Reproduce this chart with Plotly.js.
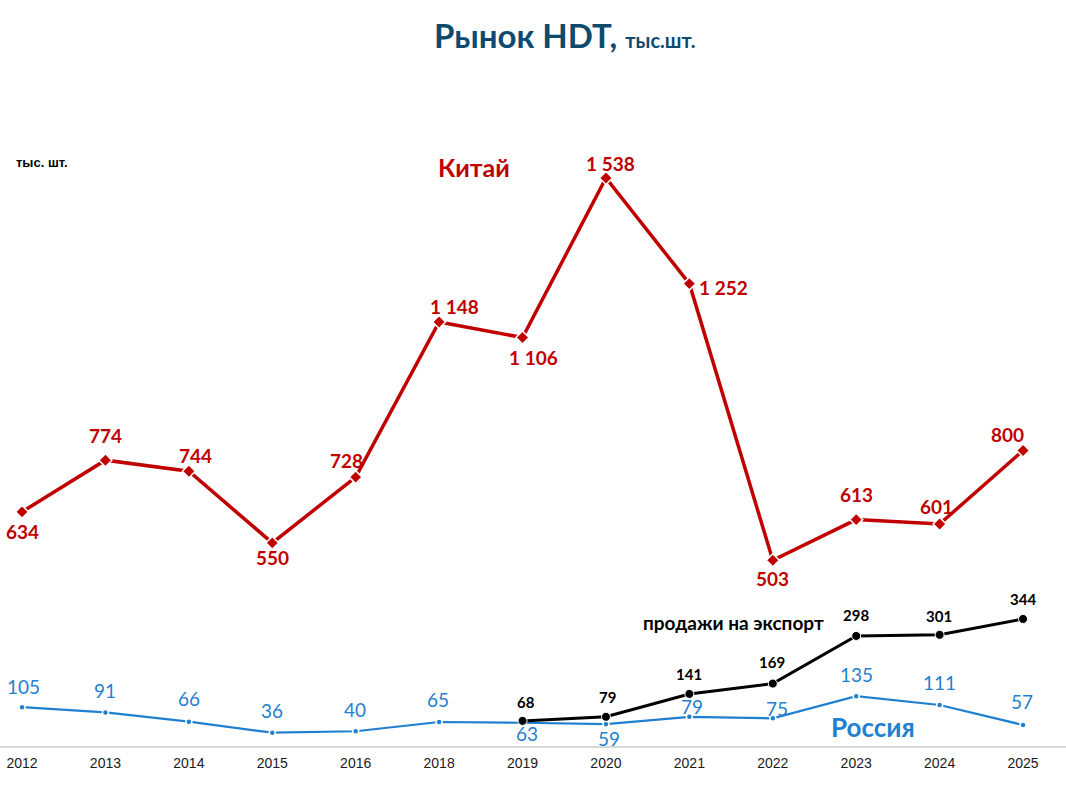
<!DOCTYPE html>
<html>
<head>
<meta charset="utf-8">
<script src="https://cdn.plot.ly/plotly-3.0.1.min.js"></script>
<style>
  html, body { margin: 0; padding: 0; background: #fff; }
  #chart { width: 1066px; height: 795px; }
</style>
</head>
<body>
<div id="chart"></div>
<script>
// данные графика
const years = ['2012', '2013', '2014', '2015', '2016', '2018', '2019', '2020', '2021', '2022', '2023', '2024', '2025'];
const china = [634, 774, 744, 550, 728, 1148, 1106, 1538, 1252, 503, 613, 601, 800];
const russia = [105, 91, 66, 36, 40, 65, 63, 59, 79, 75, 135, 111, 57];
const exportYears = ['2019', '2020', '2021', '2022', '2023', '2024', '2025'];
const exportSales = [68, 79, 141, 169, 298, 301, 344];

// смещения подписей (px): [dx, dy вниз]
const chinaLabelShift = [[0, 20], [0, -25], [7, -16], [0, 15], [-9, -17], [15, -16], [11, 20],
  [5, -15], [34, 4], [0, 18], [0, -25], [-3, -18], [-16, -16]];
const russiaLabelShift = [[1, -21], [0, -22], [0, -23], [0, -22], [-1, -22], [-1, -23], [4, 11],
  [3, 14], [3, -10], [4, -10], [0, -22], [0, -23], [-1, -23]];
const exportLabelShift = [[3, -19], [2, -20], [0, -20], [-1, -22], [0, -21], [-1, -19], [0, -20]];

const RED = '#c00000';
const BLUE = '#1f7fd0';
const LABEL_FONT = 'Lato, "Open Sans", sans-serif';
const PLOT_H = 746; // высота области построения

const fmt = v => String(v).replace(/\B(?=(\d{3})+(?!\d))/g, ' ');
const xIdx = years.map((y, i) => i);
const exportIdx = exportYears.map(y => years.indexOf(y));

const data = [
  {
    type: 'scatter', mode: 'lines+markers', name: 'Россия',
    x: xIdx, y: russia,
    line: { color: BLUE, width: 2.2 },
    marker: { color: BLUE, size: 6, symbol: 'circle', line: { color: '#fff', width: 1.5 } },
    cliponaxis: false
  },
  {
    type: 'scatter', mode: 'lines+markers', name: 'продажи на экспорт',
    x: exportIdx, y: exportSales,
    line: { color: '#000', width: 3 },
    marker: { color: '#000', size: 9, symbol: 'circle', line: { color: '#fff', width: 1 } },
    cliponaxis: false
  },
  {
    type: 'scatter', mode: 'lines+markers', name: 'Китай',
    x: xIdx, y: china,
    line: { color: RED, width: 3.5 },
    marker: { color: RED, size: 10, symbol: 'diamond', line: { color: '#fff', width: 1.5 } },
    cliponaxis: false
  }
];

// подписи значений
const annotations = [];
china.forEach((v, i) => annotations.push({
  x: xIdx[i], y: v, text: '<b>' + fmt(v) + '</b>', showarrow: false,
  xshift: chinaLabelShift[i][0], yshift: -chinaLabelShift[i][1],
  font: { family: LABEL_FONT, size: 19, color: RED }
}));
russia.forEach((v, i) => annotations.push({
  x: xIdx[i], y: v, text: fmt(v), showarrow: false,
  xshift: russiaLabelShift[i][0], yshift: -russiaLabelShift[i][1],
  font: { family: LABEL_FONT, size: 19, color: BLUE }
}));
exportSales.forEach((v, i) => annotations.push({
  x: exportIdx[i], y: v, text: '<b>' + fmt(v) + '</b>', showarrow: false,
  xshift: exportLabelShift[i][0], yshift: -exportLabelShift[i][1],
  font: { family: LABEL_FONT, size: 15, color: '#000' }
}));

// названия серий и заголовок (позиции в пикселях от левого верхнего угла)
function label(px, py, text, font) {
  return {
    xref: 'paper', yref: 'paper', x: px / 1066, y: 1 - py / PLOT_H,
    xanchor: 'center', yanchor: 'middle', text: text, showarrow: false, font: font
  };
}
annotations.push(
  label(474, 167, '<b>Китай</b>', { family: LABEL_FONT, size: 25, color: RED }),
  label(733, 622, '<b>продажи на экспорт</b>', { family: LABEL_FONT, size: 19, color: '#000' }),
  label(873, 727, '<b>Россия</b>', { family: LABEL_FONT, size: 26, color: BLUE }),
  label(42, 162, '<b>тыс. шт.</b>', { family: 'Liberation Sans, Arial, sans-serif', size: 13, color: '#000' }),
  label(565, 35, '<b>Рынок HDT, <span style="font-size:20px">тыс.шт.</span></b>',
    { family: LABEL_FONT, size: 33, color: '#0e4a6e' })
);

const layout = {
  width: 1066,
  height: 795,
  margin: { l: 0, r: 0, t: 0, b: 795 - PLOT_H },
  paper_bgcolor: '#fff',
  plot_bgcolor: '#fff',
  showlegend: false,
  xaxis: {
    range: [-0.264, 12.515],
    tickvals: xIdx,
    ticktext: years,
    showgrid: false,
    zeroline: false,
    showline: true,
    linecolor: '#d9d9d9',
    linewidth: 1.5,
    ticks: '',
    ticklabelstandoff: 4,
    tickfont: { family: 'Liberation Sans, Arial, sans-serif', size: 14, color: '#1a1a1a' },
    fixedrange: true
  },
  yaxis: {
    range: [0, 2020],
    visible: false,
    fixedrange: true
  },
  annotations: annotations
};

Plotly.newPlot('chart', data, layout, { displayModeBar: false, staticPlot: true });
</script>
</body>
</html>
